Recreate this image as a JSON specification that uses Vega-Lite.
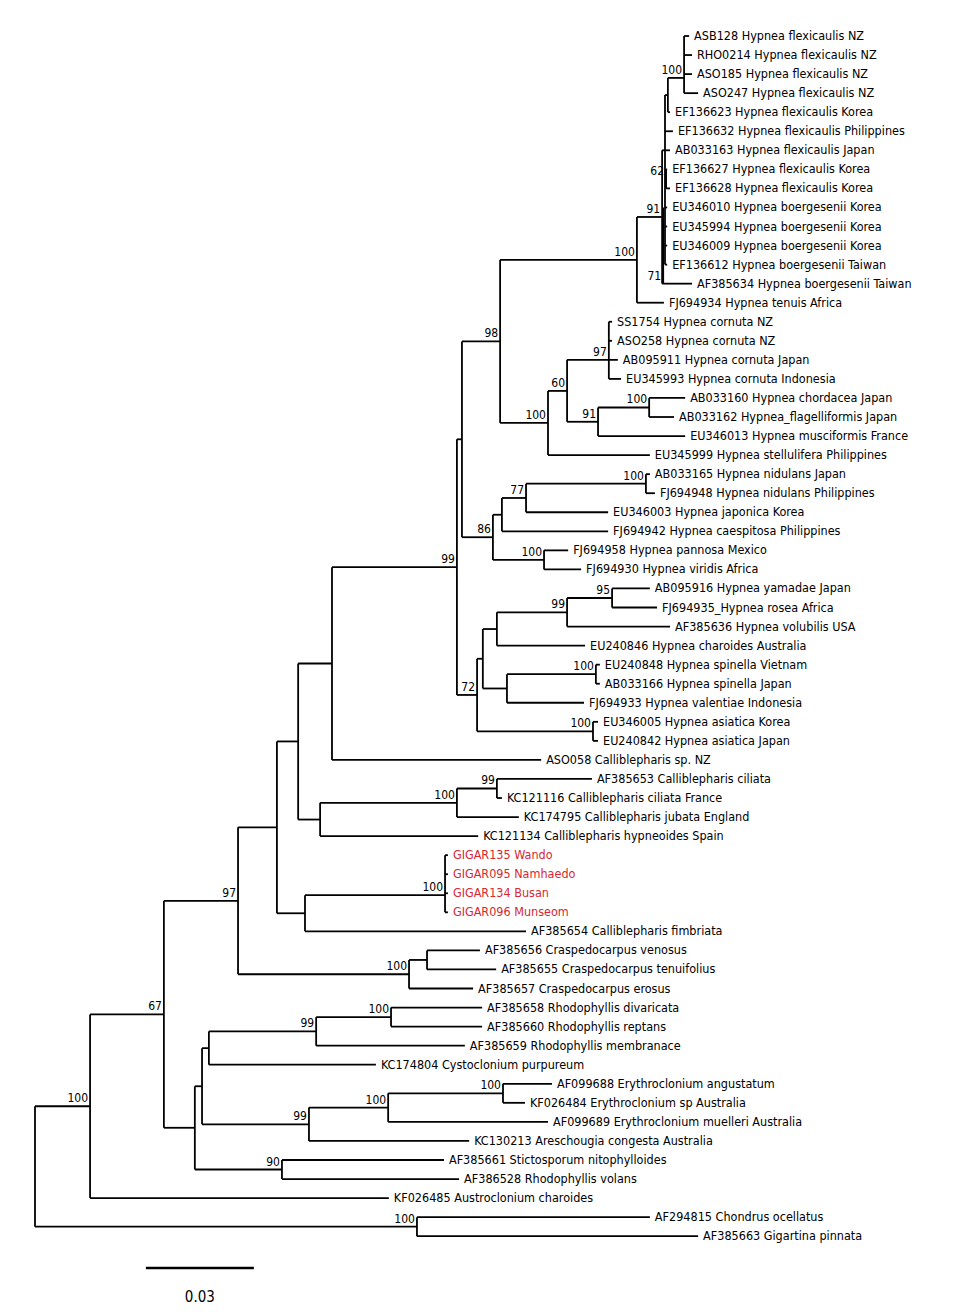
{
  "$schema": "https://vega.github.io/schema/vega-lite/v6.json",
  "width": 958,
  "height": 1316,
  "padding": 0,
  "autosize": {"type": "none"},
  "background": "white",
  "config": {"view": {"stroke": null}},
  "datasets": {
    "leaves": [
      {"n": "ASB128 Hypnea flexicaulis NZ", "r": 1, "p": 0.1803, "e": 0.1817},
      {"n": "RHO0214 Hypnea flexicaulis NZ", "r": 2, "p": 0.1803, "e": 0.1825},
      {"n": "ASO185 Hypnea flexicaulis NZ", "r": 3, "p": 0.1803, "e": 0.1825},
      {"n": "ASO247 Hypnea flexicaulis NZ", "r": 4, "p": 0.1803, "e": 0.1842},
      {"n": "EF136623 Hypnea flexicaulis Korea", "r": 5, "p": 0.1758, "e": 0.1764},
      {"n": "EF136632 Hypnea flexicaulis Philippines", "r": 6, "p": 0.1750, "e": 0.1772},
      {"n": "AB033163 Hypnea flexicaulis Japan", "r": 7, "p": 0.1750, "e": 0.1764},
      {"n": "EF136627 Hypnea flexicaulis Korea", "r": 8, "p": 0.1753, "e": 0.1756},
      {"n": "EF136628 Hypnea flexicaulis Korea", "r": 9, "p": 0.1753, "e": 0.1764},
      {"n": "EU346010 Hypnea boergesenii Korea", "r": 10, "p": 0.1750, "e": 0.1756},
      {"n": "EU345994 Hypnea boergesenii Korea", "r": 11, "p": 0.1750, "e": 0.1756},
      {"n": "EU346009 Hypnea boergesenii Korea", "r": 12, "p": 0.1750, "e": 0.1756},
      {"n": "EF136612 Hypnea boergesenii Taiwan", "r": 13, "p": 0.1750, "e": 0.1756},
      {"n": "AF385634 Hypnea boergesenii Taiwan", "r": 14, "p": 0.1745, "e": 0.1825},
      {"n": "FJ694934 Hypnea tenuis Africa", "r": 15, "p": 0.1672, "e": 0.1747},
      {"n": "SS1754 Hypnea cornuta NZ", "r": 16, "p": 0.1594, "e": 0.1603},
      {"n": "ASO258 Hypnea cornuta NZ", "r": 17, "p": 0.1594, "e": 0.1603},
      {"n": "AB095911 Hypnea cornuta Japan", "r": 18, "p": 0.1594, "e": 0.1619},
      {"n": "EU345993 Hypnea cornuta Indonesia", "r": 19, "p": 0.1594, "e": 0.1628},
      {"n": "AB033160 Hypnea chordacea Japan", "r": 20, "p": 0.1706, "e": 0.1806},
      {"n": "AB033162 Hypnea_flagelliformis Japan", "r": 21, "p": 0.1706, "e": 0.1775},
      {"n": "EU346013 Hypnea musciformis France", "r": 22, "p": 0.1564, "e": 0.1806},
      {"n": "EU345999 Hypnea stellulifera Philippines", "r": 23, "p": 0.1425, "e": 0.1708},
      {"n": "AB033165 Hypnea nidulans Japan", "r": 24, "p": 0.1697, "e": 0.1708},
      {"n": "FJ694948 Hypnea nidulans Philippines", "r": 25, "p": 0.1697, "e": 0.1722},
      {"n": "EU346003 Hypnea japonica Korea", "r": 26, "p": 0.1364, "e": 0.1592},
      {"n": "FJ694942 Hypnea caespitosa Philippines", "r": 27, "p": 0.1297, "e": 0.1592},
      {"n": "FJ694958 Hypnea pannosa Mexico", "r": 28, "p": 0.1414, "e": 0.1481},
      {"n": "FJ694930 Hypnea viridis Africa", "r": 29, "p": 0.1414, "e": 0.1517},
      {"n": "AB095916 Hypnea yamadae Japan", "r": 30, "p": 0.1603, "e": 0.1708},
      {"n": "FJ694935_Hypnea rosea Africa", "r": 31, "p": 0.1603, "e": 0.1728},
      {"n": "AF385636 Hypnea volubilis USA", "r": 32, "p": 0.1478, "e": 0.1764},
      {"n": "EU240846 Hypnea charoides Australia", "r": 33, "p": 0.1283, "e": 0.1528},
      {"n": "EU240848 Hypnea spinella Vietnam", "r": 34, "p": 0.1558, "e": 0.1569},
      {"n": "AB033166 Hypnea spinella Japan", "r": 35, "p": 0.1558, "e": 0.1569},
      {"n": "FJ694933 Hypnea valentiae Indonesia", "r": 36, "p": 0.1311, "e": 0.1525},
      {"n": "EU346005 Hypnea asiatica Korea", "r": 37, "p": 0.1550, "e": 0.1564},
      {"n": "EU240842 Hypnea asiatica Japan", "r": 38, "p": 0.1550, "e": 0.1564},
      {"n": "ASO058 Calliblepharis sp. NZ", "r": 39, "p": 0.0825, "e": 0.1406},
      {"n": "AF385653 Calliblepharis ciliata", "r": 40, "p": 0.1283, "e": 0.1547},
      {"n": "KC121116 Calliblepharis ciliata France", "r": 41, "p": 0.1283, "e": 0.1297},
      {"n": "KC174795 Calliblepharis jubata England", "r": 42, "p": 0.1172, "e": 0.1344},
      {"n": "KC121134 Calliblepharis hypneoides Spain", "r": 43, "p": 0.0792, "e": 0.1231},
      {"n": "GIGAR135 Wando", "r": 44, "p": 0.1139, "e": 0.1147},
      {"n": "GIGAR095 Namhaedo", "r": 45, "p": 0.1139, "e": 0.1147},
      {"n": "GIGAR134 Busan", "r": 46, "p": 0.1139, "e": 0.1147},
      {"n": "GIGAR096 Munseom", "r": 47, "p": 0.1139, "e": 0.1147},
      {"n": "AF385654 Calliblepharis fimbriata", "r": 48, "p": 0.0750, "e": 0.1364},
      {"n": "AF385656 Craspedocarpus venosus", "r": 49, "p": 0.1089, "e": 0.1236},
      {"n": "AF385655 Craspedocarpus tenuifolius", "r": 50, "p": 0.1089, "e": 0.1281},
      {"n": "AF385657 Craspedocarpus erosus", "r": 51, "p": 0.1039, "e": 0.1217},
      {"n": "AF385658 Rhodophyllis divaricata", "r": 52, "p": 0.0989, "e": 0.1242},
      {"n": "AF385660 Rhodophyllis reptans", "r": 53, "p": 0.0989, "e": 0.1242},
      {"n": "AF385659 Rhodophyllis membranace", "r": 54, "p": 0.0781, "e": 0.1194},
      {"n": "KC174804 Cystoclonium purpureum", "r": 55, "p": 0.0483, "e": 0.0947},
      {"n": "AF099688 Erythroclonium angustatum", "r": 56, "p": 0.1300, "e": 0.1436},
      {"n": "KF026484 Erythroclonium sp Australia", "r": 57, "p": 0.1300, "e": 0.1361},
      {"n": "AF099689 Erythroclonium muelleri Australia", "r": 58, "p": 0.0981, "e": 0.1425},
      {"n": "KC130213 Areschougia congesta Australia", "r": 59, "p": 0.0761, "e": 0.1206},
      {"n": "AF385661 Stictosporum nitophylloides", "r": 60, "p": 0.0686, "e": 0.1136},
      {"n": "AF386528 Rhodophyllis volans", "r": 61, "p": 0.0686, "e": 0.1178},
      {"n": "KF026485 Austroclonium charoides", "r": 62, "p": 0.0153, "e": 0.0983},
      {"n": "AF294815 Chondrus ocellatus", "r": 63, "p": 0.1061, "e": 0.1708},
      {"n": "AF385663 Gigartina pinnata", "r": 64, "p": 0.1061, "e": 0.1842}
    ],
    "nodes": [
      {"x": 0.0, "p": 0.0, "y": 60.34, "lo": 57.18, "hi": 63.5, "s": ""},
      {"x": 0.0153, "p": 0.0, "y": 57.18, "lo": 52.36, "hi": 62, "s": "100"},
      {"x": 0.1061, "p": 0.0, "y": 63.5, "lo": 63, "hi": 64, "s": "100"},
      {"x": 0.0358, "p": 0.0153, "y": 52.36, "lo": 46.4, "hi": 58.31, "s": "67"},
      {"x": 0.0444, "p": 0.0358, "y": 58.31, "lo": 56.13, "hi": 60.5, "s": ""},
      {"x": 0.0464, "p": 0.0444, "y": 56.13, "lo": 54.13, "hi": 58.13, "s": ""},
      {"x": 0.0686, "p": 0.0444, "y": 60.5, "lo": 60, "hi": 61, "s": "90"},
      {"x": 0.0483, "p": 0.0464, "y": 54.13, "lo": 53.25, "hi": 55, "s": ""},
      {"x": 0.0761, "p": 0.0464, "y": 58.13, "lo": 57.25, "hi": 59, "s": "99"},
      {"x": 0.0781, "p": 0.0483, "y": 53.25, "lo": 52.5, "hi": 54, "s": "99"},
      {"x": 0.0989, "p": 0.0781, "y": 52.5, "lo": 52, "hi": 53, "s": "100"},
      {"x": 0.0981, "p": 0.0761, "y": 57.25, "lo": 56.5, "hi": 58, "s": "100"},
      {"x": 0.1300, "p": 0.0981, "y": 56.5, "lo": 56, "hi": 57, "s": "100"},
      {"x": 0.0564, "p": 0.0358, "y": 46.4, "lo": 42.54, "hi": 50.25, "s": "97"},
      {"x": 0.1039, "p": 0.0564, "y": 50.25, "lo": 49.5, "hi": 51, "s": "100"},
      {"x": 0.1089, "p": 0.1039, "y": 49.5, "lo": 49, "hi": 50, "s": ""},
      {"x": 0.0672, "p": 0.0564, "y": 42.54, "lo": 38.03, "hi": 47.05, "s": ""},
      {"x": 0.0750, "p": 0.0672, "y": 47.05, "lo": 46.1, "hi": 48, "s": ""},
      {"x": 0.1139, "p": 0.0750, "y": 46.1, "lo": 44, "hi": 47, "s": "100"},
      {"x": 0.0731, "p": 0.0672, "y": 38.03, "lo": 33.94, "hi": 42.13, "s": ""},
      {"x": 0.0792, "p": 0.0731, "y": 42.13, "lo": 41.25, "hi": 43, "s": ""},
      {"x": 0.1172, "p": 0.0792, "y": 41.25, "lo": 40.5, "hi": 42, "s": "100"},
      {"x": 0.1283, "p": 0.1172, "y": 40.5, "lo": 40, "hi": 41, "s": "99"},
      {"x": 0.0825, "p": 0.0731, "y": 33.94, "lo": 28.88, "hi": 39, "s": ""},
      {"x": 0.1172, "p": 0.0825, "y": 28.88, "lo": 22.17, "hi": 35.59, "s": "99"},
      {"x": 0.1228, "p": 0.1172, "y": 35.59, "lo": 33.69, "hi": 37.5, "s": "72"},
      {"x": 0.1550, "p": 0.1228, "y": 37.5, "lo": 37, "hi": 38, "s": "100"},
      {"x": 0.1244, "p": 0.1228, "y": 33.69, "lo": 32.13, "hi": 35.25, "s": ""},
      {"x": 0.1311, "p": 0.1244, "y": 35.25, "lo": 34.5, "hi": 36, "s": ""},
      {"x": 0.1558, "p": 0.1311, "y": 34.5, "lo": 34, "hi": 35, "s": "100"},
      {"x": 0.1283, "p": 0.1244, "y": 32.13, "lo": 31.25, "hi": 33, "s": ""},
      {"x": 0.1478, "p": 0.1283, "y": 31.25, "lo": 30.5, "hi": 32, "s": "99"},
      {"x": 0.1603, "p": 0.1478, "y": 30.5, "lo": 30, "hi": 31, "s": "95"},
      {"x": 0.1186, "p": 0.1172, "y": 22.17, "lo": 17.03, "hi": 27.31, "s": ""},
      {"x": 0.1272, "p": 0.1186, "y": 27.31, "lo": 26.13, "hi": 28.5, "s": "86"},
      {"x": 0.1414, "p": 0.1272, "y": 28.5, "lo": 28, "hi": 29, "s": "100"},
      {"x": 0.1297, "p": 0.1272, "y": 26.13, "lo": 25.25, "hi": 27, "s": ""},
      {"x": 0.1364, "p": 0.1297, "y": 25.25, "lo": 24.5, "hi": 26, "s": "77"},
      {"x": 0.1697, "p": 0.1364, "y": 24.5, "lo": 24, "hi": 25, "s": "100"},
      {"x": 0.1292, "p": 0.1186, "y": 17.03, "lo": 12.75, "hi": 21.31, "s": "98"},
      {"x": 0.1425, "p": 0.1292, "y": 21.31, "lo": 19.63, "hi": 23, "s": "100"},
      {"x": 0.1478, "p": 0.1425, "y": 19.63, "lo": 18, "hi": 21.25, "s": "60"},
      {"x": 0.1564, "p": 0.1478, "y": 21.25, "lo": 20.5, "hi": 22, "s": "91"},
      {"x": 0.1706, "p": 0.1564, "y": 20.5, "lo": 20, "hi": 21, "s": "100"},
      {"x": 0.1594, "p": 0.1478, "y": 18, "lo": 16, "hi": 19, "s": "97"},
      {"x": 0.1672, "p": 0.1292, "y": 12.75, "lo": 10.5, "hi": 15, "s": "100"},
      {"x": 0.1742, "p": 0.1672, "y": 10.5, "lo": 7, "hi": 14, "s": "91"},
      {"x": 0.1745, "p": 0.1742, "y": 14, "lo": 10, "hi": 14, "s": "71"},
      {"x": 0.1750, "p": 0.1742, "y": 7, "lo": 4.1, "hi": 13, "s": ""},
      {"x": 0.1753, "p": 0.1750, "y": 8.5, "lo": 8, "hi": 9, "s": "62"},
      {"x": 0.1758, "p": 0.1750, "y": 4.1, "lo": 3.2, "hi": 5, "s": ""},
      {"x": 0.1803, "p": 0.1758, "y": 3.2, "lo": 1, "hi": 4, "s": "100"}
    ],
    "scalebar": [
      {"x": 0.0308, "x2": 0.0608, "y": 65.67, "xm": 0.0458, "ly": 67.19, "label": "0.03"}
    ]
  },
  "layer": [
    {
      "data": {"name": "nodes"},
      "mark": {"type": "rule", "color": "black", "strokeWidth": 1.8},
      "encoding": {
        "x": {"field": "p", "type": "quantitative", "scale": {"domain": [-0.00972, 0.25639], "nice": false, "zero": false}, "axis": null},
        "x2": {"field": "x"},
        "y": {"field": "y", "type": "quantitative", "scale": {"domain": [-0.8898, 68.19], "nice": false, "zero": false, "reverse": true}, "axis": null}
      }
    },
    {
      "data": {"name": "nodes"},
      "mark": {"type": "rule", "color": "black", "strokeWidth": 1.8},
      "encoding": {
        "x": {"field": "x", "type": "quantitative", "scale": {"domain": [-0.00972, 0.25639], "nice": false, "zero": false}, "axis": null},
        "y": {"field": "lo", "type": "quantitative", "scale": {"domain": [-0.8898, 68.19], "nice": false, "zero": false, "reverse": true}, "axis": null},
        "y2": {"field": "hi"}
      }
    },
    {
      "data": {"name": "leaves"},
      "mark": {"type": "rule", "color": "black", "strokeWidth": 1.8},
      "encoding": {
        "x": {"field": "p", "type": "quantitative", "scale": {"domain": [-0.00972, 0.25639], "nice": false, "zero": false}, "axis": null},
        "x2": {"field": "e"},
        "y": {"field": "r", "type": "quantitative", "scale": {"domain": [-0.8898, 68.19], "nice": false, "zero": false, "reverse": true}, "axis": null}
      }
    },
    {
      "data": {"name": "leaves"},
      "mark": {"type": "text", "align": "left", "baseline": "middle", "dx": 5, "font": "DejaVu Sans Condensed, DejaVu Sans, sans-serif", "fontSize": 12.5},
      "encoding": {
        "x": {"field": "e", "type": "quantitative", "scale": {"domain": [-0.00972, 0.25639], "nice": false, "zero": false}, "axis": null},
        "y": {"field": "r", "type": "quantitative", "scale": {"domain": [-0.8898, 68.19], "nice": false, "zero": false, "reverse": true}, "axis": null},
        "text": {"field": "n"},
        "color": {"condition": {"test": "indexof(datum.n, 'GIGAR') === 0", "value": "#d7282f"}, "value": "#000000"}
      }
    },
    {
      "data": {"name": "nodes"},
      "transform": [{"filter": "datum.s != ''"}],
      "mark": {"type": "text", "align": "right", "baseline": "alphabetic", "dx": -2, "dy": -4, "font": "DejaVu Sans Condensed, DejaVu Sans, sans-serif", "fontSize": 12, "color": "black"},
      "encoding": {
        "x": {"field": "x", "type": "quantitative", "scale": {"domain": [-0.00972, 0.25639], "nice": false, "zero": false}, "axis": null},
        "y": {"field": "y", "type": "quantitative", "scale": {"domain": [-0.8898, 68.19], "nice": false, "zero": false, "reverse": true}, "axis": null},
        "text": {"field": "s"}
      }
    },
    {
      "data": {"name": "scalebar"},
      "mark": {"type": "rule", "color": "black", "strokeWidth": 2.5},
      "encoding": {
        "x": {"field": "x", "type": "quantitative", "scale": {"domain": [-0.00972, 0.25639], "nice": false, "zero": false}, "axis": null},
        "x2": {"field": "x2"},
        "y": {"field": "y", "type": "quantitative", "scale": {"domain": [-0.8898, 68.19], "nice": false, "zero": false, "reverse": true}, "axis": null}
      }
    },
    {
      "data": {"name": "scalebar"},
      "mark": {"type": "text", "align": "center", "baseline": "middle", "font": "DejaVu Sans Condensed, DejaVu Sans, sans-serif", "fontSize": 15, "color": "black"},
      "encoding": {
        "x": {"field": "xm", "type": "quantitative", "scale": {"domain": [-0.00972, 0.25639], "nice": false, "zero": false}, "axis": null},
        "y": {"field": "ly", "type": "quantitative", "scale": {"domain": [-0.8898, 68.19], "nice": false, "zero": false, "reverse": true}, "axis": null},
        "text": {"field": "label"}
      }
    }
  ]
}
